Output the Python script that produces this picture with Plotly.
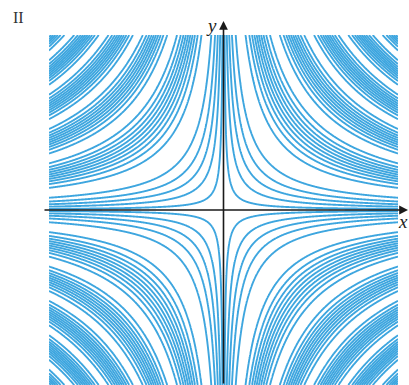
import numpy as np
import plotly.graph_objects as go

# Contour map of z = sin(xy) on the square [-4, 4] x [-4, 4]
x_range = [-4.0, 4.0]
y_range = [-4.0, 4.0]
level_start = -0.9
level_end = 0.9
level_step = 0.2
n_grid = 601

line_color = "#3ea6df"
axis_color = "#1a1a1a"

xs = np.linspace(x_range[0], x_range[1], n_grid)
ys = np.linspace(y_range[0], y_range[1], n_grid)
X, Y = np.meshgrid(xs, ys)
Z = np.sin(X * Y)

W, H = 409, 385
px0, px1 = 49, 398
py_top, py_bot = 35, 385

fig = go.Figure()
fig.add_trace(go.Contour(
    x=xs.tolist(), y=ys.tolist(), z=Z.round(5).tolist(),
    autocontour=False,
    contours=dict(coloring="lines", start=level_start, end=level_end, size=level_step),
    colorscale=[[0, line_color], [1, line_color]],
    line=dict(width=1.9),
    showscale=False,
    hoverinfo="skip",
))

fig.update_layout(
    width=W, height=H,
    margin=dict(l=0, r=0, t=0, b=0),
    paper_bgcolor="white", plot_bgcolor="white",
    showlegend=False,
    xaxis=dict(range=x_range, domain=[px0 / W, px1 / W], visible=False, fixedrange=True),
    yaxis=dict(range=y_range, domain=[(H - py_bot) / H, (H - py_top) / H], visible=False, fixedrange=True),
)

# coordinate axes with arrowheads
fig.add_annotation(
    x=408 / W, xref="paper", y=0, yref="y",
    ax=-(408 - 43), ay=0, axref="pixel", ayref="pixel",
    text="", showarrow=True, arrowhead=2, arrowsize=1.1, arrowwidth=1.6, arrowcolor=axis_color,
)
fig.add_annotation(
    x=0, xref="x", y=(H - 21) / H, yref="paper",
    ax=0, ay=(H - 21) + 5, axref="pixel", ayref="pixel",
    text="", showarrow=True, arrowhead=2, arrowsize=1.1, arrowwidth=1.6, arrowcolor=axis_color,
)

serif = "Liberation Serif, Times New Roman, serif"
label_pos = dict(xref="paper", yref="paper", xanchor="center", yanchor="middle", showarrow=False)
fig.add_annotation(x=403 / W, y=(H - 221) / H, text="<i>x</i>",
                   font=dict(family=serif, size=19, color="#222"), **label_pos)
fig.add_annotation(x=212 / W, y=(H - 25) / H, text="<i>y</i>",
                   font=dict(family=serif, size=19, color="#222"), **label_pos)
fig.add_annotation(x=18 / W, y=(H - 17) / H, text="II",
                   font=dict(family=serif, size=16, color="#333"), **label_pos)

fig.write_html("out.html")
